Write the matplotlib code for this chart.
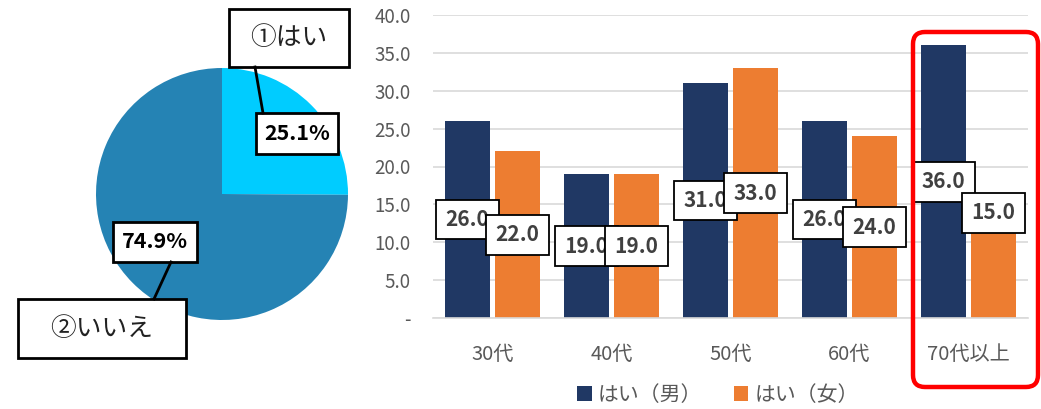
import numpy as np
import matplotlib.pyplot as plt
from matplotlib.patches import Rectangle, FancyBboxPatch

plt.rcParams['font.family'] = ['Noto Sans CJK JP', 'DejaVu Sans']

# pie data
pie_labels = ["①はい", "②いいえ"]
pie_values = [25.1, 74.9]
pie_colors = ["#00CCFF", "#2583B4"]

# bar data
categories = ["30代", "40代", "50代", "60代", "70代以上"]
male = [26.0, 19.0, 31.0, 26.0, 36.0]
female = [22.0, 19.0, 33.0, 24.0, 15.0]
series_names = ["はい（男）", "はい（女）"]
# the last female label was moved up by hand in the original
female_label_shift = [0, 0, 0, 0, 6.4]

W, H = 1041, 409
fig = plt.figure(figsize=(W / 100, H / 100), dpi=100)

def px(x0, y0, x1, y1):
    # pixel box (top-left origin) -> figure fraction rect
    return [x0 / W, 1 - y1 / H, (x1 - x0) / W, (y1 - y0) / H]

# ---- pie ----
axp = fig.add_axes(px(96, 68, 348, 320))
axp.pie(pie_values, colors=pie_colors, startangle=90, counterclock=False,
        radius=1, wedgeprops=dict(linewidth=0))
axp.set_xlim(-1, 1)
axp.set_ylim(-1, 1)
axp.set_aspect('equal')
axp.axis('off')

# ---- bars ----
ax = fig.add_axes(px(433, 15, 1028, 318))
x = np.arange(len(categories))
bw = 0.385
off = 0.21
ax.bar(x - off, male, bw, color="#203864", label=series_names[0], zorder=2)
ax.bar(x + off, female, bw, color="#ED7D31", label=series_names[1], zorder=2)
ax.set_xlim(-0.5, len(categories) - 0.5)
ax.set_ylim(0, 40)
yt = np.arange(0, 45, 5)
ax.set_yticks(yt)
ax.set_yticklabels(["-" if v == 0 else f"{v:.1f}" for v in yt])
ax.set_xticks(x)
ax.set_xticklabels(categories)
ax.tick_params(axis='both', length=0, labelcolor="#595959")
ax.tick_params(axis='y', pad=16, labelsize=13.5)
ax.tick_params(axis='x', pad=19, labelsize=14.5)
ax.grid(axis='y', color="#D9D9D9", lw=1.2, zorder=0)
for s in ["top", "right", "left"]:
    ax.spines[s].set_visible(False)
ax.spines["bottom"].set_color("#D9D9D9")
ax.spines["bottom"].set_linewidth(1.2)

box = dict(boxstyle="square,pad=0.45", fc="white", ec="black", lw=1.3)
for i, v in enumerate(male):
    ax.text(i - off, v / 2, f"{v:.1f}", ha='center', va='center', fontsize=15,
            fontweight='bold', color="#404040", bbox=box, zorder=5)
for i, v in enumerate(female):
    ax.text(i + off, v / 2 + female_label_shift[i], f"{v:.1f}", ha='center',
            va='center', fontsize=15, fontweight='bold', color="#404040",
            bbox=box, zorder=6)

ax.legend(loc='center', bbox_to_anchor=(0.479, -0.254), ncol=2, frameon=False,
          handlelength=0.7, handleheight=0.7, handletextpad=0.3,
          columnspacing=1.5, prop={'size': 15}, labelcolor="#595959")

# ---- overlay for pie callouts and highlight frame ----
ov = fig.add_axes([0, 0, 1, 1])
ov.set_xlim(0, W)
ov.set_ylim(H, 0)
ov.axis('off')

def label_box(x0, y0, x1, y1, text, **kw):
    ov.add_patch(Rectangle((x0, y0), x1 - x0, y1 - y0, fc="white", ec="black", lw=2))
    ov.text((x0 + x1) / 2, (y0 + y1) / 2, text, ha='center', va='center', **kw)

ov.plot([255, 263], [67, 113], color="black", lw=2)
ov.plot([171, 154], [262, 299], color="black", lw=2)
label_box(229, 9, 349, 67, pie_labels[0], fontsize=18.5, color="#222222")
label_box(256, 113, 338, 154, f"{pie_values[0]}%", fontsize=15.5, fontweight='bold')
label_box(113, 222, 197, 262, f"{pie_values[1]}%", fontsize=15.5, fontweight='bold')
label_box(18, 299, 186, 358, pie_labels[1], fontsize=18.5, color="#222222")

ov.add_patch(FancyBboxPatch((913, 32), 125, 355,
                            boxstyle="round,pad=0,rounding_size=12",
                            fc="none", ec="#FF0000", lw=3.2))

fig.savefig("out.png", dpi=100)
